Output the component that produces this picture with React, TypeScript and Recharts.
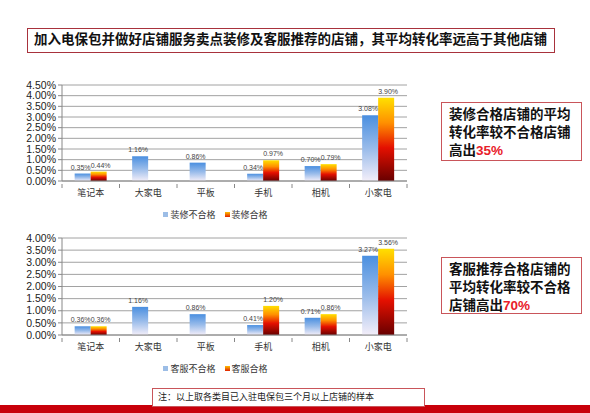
import React from 'react';
import { BarChart, Bar, XAxis, YAxis, CartesianGrid, LabelList, Legend } from 'recharts';

const categories = ['笔记本', '大家电', '平板', '手机', '相机', '小家电'];
const decoFail = [0.35, 1.16, 0.86, 0.34, 0.70, 3.08];
const decoPass = [0.44, null, null, 0.97, 0.79, 3.90];
const svcFail = [0.36, 1.16, 0.86, 0.41, 0.71, 3.27];
const svcPass = [0.36, null, null, 1.20, 0.86, 3.56];
const topTicks = [0, 0.5, 1, 1.5, 2, 2.5, 3, 3.5, 4, 4.5];
const bottomTicks = [0, 0.5, 1, 1.5, 2, 2.5, 3, 3.5, 4];
const topNames = ['装修不合格', '装修合格'];
const bottomNames = ['客服不合格', '客服合格'];

const topData = categories.map((c, i) => ({ name: c, a: decoFail[i], b: decoPass[i] }));
const bottomData = categories.map((c, i) => ({ name: c, a: svcFail[i], b: svcPass[i] }));

const FONT = '"Liberation Sans", Arial, "Noto Sans CJK SC", sans-serif';
const CHART_W = 420;
const LEFT_W = 62;
const RIGHT_M = 13;
const BAND = (CHART_W - LEFT_W - RIGHT_M) / categories.length;

const fmt = (v: any) => (v === null || v === undefined ? '' : `${Number(v).toFixed(2)}%`);

const CatTick = (props: any) => {
  const { x, y, payload, index } = props;
  const half = BAND / 2;
  return (
    <g>
      <line x1={x - half} y1={y - 5} x2={x - half} y2={y - 1} stroke="#888" />
      {index === categories.length - 1 && (
        <line x1={x + half} y1={y - 5} x2={x + half} y2={y - 1} stroke="#888" />
      )}
      <text x={x} y={y + 7} textAnchor="middle" fontSize={9} fill="#333" fontFamily={FONT}>
        {payload.value}
      </text>
    </g>
  );
};

const LegendContent = (names: string[]) => () => (
  <div style={{ display: 'flex', justifyContent: 'center', alignItems: 'center', height: 22, fontSize: 9, color: '#333', fontFamily: FONT, paddingLeft: 24 }}>
    <span style={{ display: 'inline-block', width: 5, height: 5, background: '#9cbde6', marginRight: 2 }} />
    <span style={{ marginRight: 9 }}>{names[0]}</span>
    <span style={{ display: 'inline-block', width: 5, height: 5, background: 'linear-gradient(#ffc000,#e02000)', marginRight: 2 }} />
    <span>{names[1]}</span>
  </div>
);

const labelStyle = { fontSize: 7, fill: '#444', fontFamily: FONT };

const Chart = ({ data, ticks, max, names, top, height, id }: any) => (
  <div style={{ position: 'absolute', left: 0, top }}>
    <BarChart
      width={CHART_W}
      height={height}
      data={data}
      margin={{ top: 15, right: RIGHT_M, bottom: 0, left: 0 }}
      barCategoryGap="22%"
      barGap={0}
    >
      <defs>
        <linearGradient id={`blue${id}`} x1="0" y1="0" x2="0" y2="1">
          <stop offset="0%" stopColor="#4a8fe0" />
          <stop offset="50%" stopColor="#98bbea" />
          <stop offset="100%" stopColor="#f3eef9" />
        </linearGradient>
        <linearGradient id={`red${id}`} x1="0" y1="0" x2="0" y2="1">
          <stop offset="0%" stopColor="#ffe000" />
          <stop offset="30%" stopColor="#ff9000" />
          <stop offset="60%" stopColor="#e41000" />
          <stop offset="100%" stopColor="#680000" />
        </linearGradient>
      </defs>
      <CartesianGrid vertical={false} stroke="#8a8a8a" strokeWidth={0.8} />
      <XAxis
        dataKey="name"
        height={22}
        tickLine={false}
        axisLine={{ stroke: '#888' }}
        tick={<CatTick />}
        interval={0}
      />
      <YAxis
        width={LEFT_W}
        domain={[0, max]}
        ticks={ticks}
        interval={0}
        tickFormatter={(v: number) => `${v.toFixed(2)}%`}
        tick={{ fontSize: 10.5, fill: '#222', fontFamily: FONT }}
        tickSize={4}
        tickMargin={2}
        axisLine={{ stroke: '#888' }}
        tickLine={{ stroke: '#888' }}
      />
      <Legend verticalAlign="bottom" content={LegendContent(names)} wrapperStyle={{ height: 22 }} />
      <Bar dataKey="a" name={names[0]} fill={`url(#blue${id})`} isAnimationActive={false}>
        <LabelList dataKey="a" position="top" formatter={fmt} offset={4} dx={-2} style={labelStyle} />
      </Bar>
      <Bar dataKey="b" name={names[1]} fill={`url(#red${id})`} isAnimationActive={false}>
        <LabelList dataKey="b" position="top" formatter={fmt} offset={4} dx={2} style={labelStyle} />
      </Bar>
    </BarChart>
  </div>
);

const boxText: React.CSSProperties = {
  position: 'absolute',
  border: '1px solid #c9555a',
  fontFamily: FONT,
  fontWeight: 'bold',
  fontSize: 13.5,
  lineHeight: '18px',
  color: '#111',
  padding: '3px 6px 3px 7px',
  boxSizing: 'border-box',
  background: '#fff',
};

export default function App() {
  return (
    <div style={{ position: 'absolute', left: 0, top: 0, width: 590, height: 413, background: '#fff', overflow: 'hidden', fontFamily: FONT }}>
      <div
        style={{
          position: 'absolute', left: 27, top: 28, width: 528, height: 25,
          border: '1.5px solid #a8323c', boxSizing: 'border-box',
          fontWeight: 'bold', fontSize: 13.5, lineHeight: '22px', color: '#111',
          paddingLeft: 6, whiteSpace: 'nowrap',
        }}
      >
        加入电保包并做好店铺服务卖点装修及客服推荐的店铺，其平均转化率远高于其他店铺
      </div>

      <Chart data={topData} ticks={topTicks} max={4.5} names={topNames} top={70} height={155} id="t" />
      <Chart data={bottomData} ticks={bottomTicks} max={4} names={bottomNames} top={223} height={156} id="b" />

      <div style={{ ...boxText, left: 441, top: 102, width: 141, height: 59 }}>
        装修合格店铺的平均<br />转化率较不合格店铺<br />高出<span style={{ color: '#e8202a' }}>35%</span>
      </div>
      <div style={{ ...boxText, left: 441, top: 257, width: 141, height: 57 }}>
        客服推荐合格店铺的<br />平均转化率较不合格<br />店铺高出<span style={{ color: '#e8202a' }}>70%</span>
      </div>

      <div style={{ position: 'absolute', left: 0, top: 405, width: 590, height: 8, background: '#c8000a' }} />
      <div
        style={{
          position: 'absolute', left: 152, top: 388, width: 273, height: 19,
          border: '1px solid #c9555a', boxSizing: 'border-box', background: '#fff',
          fontSize: 9, lineHeight: '17px', paddingLeft: 5, color: '#222', whiteSpace: 'nowrap',
        }}
      >
        注：以上取各类目已入驻电保包三个月以上店铺的样本
      </div>
    </div>
  );
}
